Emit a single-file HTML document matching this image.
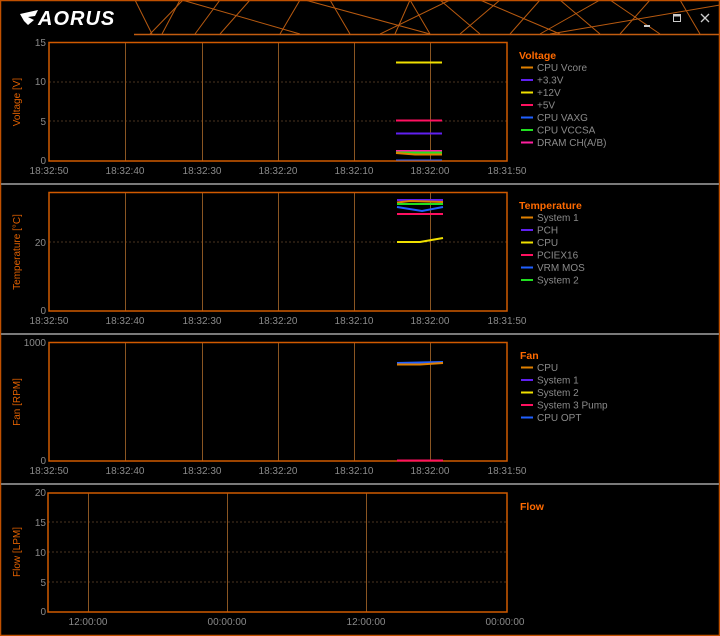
<!DOCTYPE html>
<html><head><meta charset="utf-8"><style>
html,body{margin:0;padding:0;background:#000;}
svg{display:block;font-family:"Liberation Sans","DejaVu Sans",sans-serif;}
.ax{fill:#8a8a8a;font-size:10px;}
.lg{fill:#8a8a8a;font-size:10px;}
.tt{fill:#ff6a00;font-size:10.5px;font-weight:bold;}
.yl{fill:#e06000;font-size:10px;}
</style></head><body>
<svg width="720" height="636" viewBox="0 0 720 636">
<rect width="720" height="636" fill="#000"/>
<!-- header -->
<g stroke="#b85a10" stroke-width="1" fill="none">
<line x1="135" y1="0" x2="152" y2="34"/><line x1="183" y1="0" x2="150" y2="34"/>
<line x1="180" y1="0" x2="162" y2="34"/><line x1="220" y1="0" x2="195" y2="34"/>
<line x1="182" y1="0" x2="300" y2="34"/><line x1="300" y1="0" x2="280" y2="34"/>
<line x1="305" y1="0" x2="430" y2="34"/><line x1="410" y1="0" x2="395" y2="34"/>
<line x1="410" y1="0" x2="430" y2="34"/><line x1="450" y1="0" x2="380" y2="34"/>
<line x1="440" y1="0" x2="480" y2="34"/><line x1="500" y1="0" x2="460" y2="34"/>
<line x1="480" y1="0" x2="560" y2="34"/><line x1="540" y1="0" x2="510" y2="34"/>
<line x1="600" y1="0" x2="540" y2="34"/><line x1="610" y1="0" x2="660" y2="34"/>
<line x1="720" y1="5" x2="550" y2="34"/><line x1="680" y1="0" x2="700" y2="34"/>
<line x1="250" y1="0" x2="220" y2="34"/><line x1="330" y1="0" x2="350" y2="34"/>
<line x1="560" y1="0" x2="600" y2="34"/><line x1="650" y1="0" x2="620" y2="34"/>
</g>
<line x1="134" y1="34.5" x2="720" y2="34.5" stroke="#c25c10" stroke-width="1.5"/>
<rect x="0.5" y="0.5" width="719" height="635" fill="none" stroke="#c05000" stroke-width="1.5"/>
<text x="38" y="25" fill="#fff" font-size="20" font-weight="bold" font-style="italic" letter-spacing="1">AORUS</text>
<path d="M20 14 L38 10 L35 16 L28 17 L34 20 L28 25 L24 21 Z" fill="#fff"/>
<rect x="644" y="25" width="6" height="2" fill="#ccc"/>
<rect x="673.5" y="14.5" width="7" height="7" fill="none" stroke="#ccc"/><line x1="673" y1="15.5" x2="681" y2="15.5" stroke="#ccc" stroke-width="2"/>
<path d="M701 14 L709 22 M709 14 L701 22" stroke="#ccc" stroke-width="1.3"/>
<!-- separators -->
<rect x="1" y="183" width="718" height="2" fill="#7a7a7a"/>
<rect x="1" y="333" width="718" height="2" fill="#7a7a7a"/>
<rect x="1" y="483" width="718" height="2" fill="#7a7a7a"/>

<!-- Panel 1 -->
<g stroke="#4a3520" stroke-dasharray="2,2"><line x1="49" y1="82" x2="507" y2="82"/><line x1="49" y1="121" x2="507" y2="121"/></g>
<g stroke="#8a5522"><line x1="125.5" y1="42" x2="125.5" y2="161"/><line x1="202.5" y1="42" x2="202.5" y2="161"/><line x1="278.5" y1="42" x2="278.5" y2="161"/><line x1="354.5" y1="42" x2="354.5" y2="161"/><line x1="430.5" y1="42" x2="430.5" y2="161"/></g>
<rect x="49" y="42.5" width="458" height="118.5" fill="none" stroke="#d05a00" stroke-width="1.5"/>
<g stroke-width="2">
<line x1="396" y1="62.5" x2="442" y2="62.5" stroke="#f0e000"/>
<line x1="396" y1="120.5" x2="442" y2="120.5" stroke="#ff1060"/>
<line x1="396" y1="133.5" x2="442" y2="133.5" stroke="#6020f0"/>
<line x1="396" y1="151" x2="442" y2="151" stroke="#ff20a0"/>
<line x1="396" y1="152.5" x2="442" y2="152.5" stroke="#20e020"/>
<polyline points="396,153 415,154.5 442,154.5" stroke="#e08000" fill="none"/>
<line x1="396" y1="160" x2="442" y2="160" stroke="#2060ff" stroke-width="1"/>
</g>
<g class="ax" text-anchor="end"><text x="46" y="46">15</text><text x="46" y="85">10</text><text x="46" y="125">5</text><text x="46" y="164">0</text></g>
<g class="ax" text-anchor="middle"><text x="49" y="174">18:32:50</text><text x="125" y="174">18:32:40</text><text x="202" y="174">18:32:30</text><text x="278" y="174">18:32:20</text><text x="354" y="174">18:32:10</text><text x="430" y="174">18:32:00</text><text x="507" y="174">18:31:50</text></g>
<text class="yl" transform="translate(20,102) rotate(-90)" text-anchor="middle">Voltage [V]</text>
<text class="tt" x="519" y="59">Voltage</text>
<g stroke-width="2"><line x1="521" y1="67.5" x2="533" y2="67.5" stroke="#e08000"/><line x1="521" y1="80" x2="533" y2="80" stroke="#6020f0"/><line x1="521" y1="92.5" x2="533" y2="92.5" stroke="#f0e000"/><line x1="521" y1="105" x2="533" y2="105" stroke="#ff1060"/><line x1="521" y1="117.5" x2="533" y2="117.5" stroke="#2060ff"/><line x1="521" y1="130" x2="533" y2="130" stroke="#20e020"/><line x1="521" y1="142.5" x2="533" y2="142.5" stroke="#ff20a0"/></g>
<g class="lg"><text x="537" y="71">CPU Vcore</text><text x="537" y="83.5">+3.3V</text><text x="537" y="96">+12V</text><text x="537" y="108.5">+5V</text><text x="537" y="121">CPU VAXG</text><text x="537" y="133.5">CPU VCCSA</text><text x="537" y="146">DRAM CH(A/B)</text></g>

<!-- Panel 2 -->
<g stroke="#4a3520" stroke-dasharray="2,2"><line x1="49" y1="242" x2="507" y2="242"/></g>
<g stroke="#8a5522"><line x1="125.5" y1="192" x2="125.5" y2="311"/><line x1="202.5" y1="192" x2="202.5" y2="311"/><line x1="278.5" y1="192" x2="278.5" y2="311"/><line x1="354.5" y1="192" x2="354.5" y2="311"/><line x1="430.5" y1="192" x2="430.5" y2="311"/></g>
<rect x="49" y="192.5" width="458" height="118.5" fill="none" stroke="#d05a00" stroke-width="1.5"/>
<g stroke-width="2" fill="none">
<line x1="397" y1="200" x2="443" y2="200" stroke="#6020f0"/>
<polyline points="397,202.5 410,201 443,202" stroke="#e08000"/>
<line x1="397" y1="204" x2="443" y2="204" stroke="#20e020"/>
<polyline points="397,207 422,211 443,207" stroke="#2060ff"/>
<line x1="397" y1="214" x2="443" y2="214" stroke="#ff1060"/>
<polyline points="397,242 420,242 443,238" stroke="#f0e000"/>
</g>
<g class="ax" text-anchor="end"><text x="46" y="246">20</text><text x="46" y="314">0</text></g>
<g class="ax" text-anchor="middle"><text x="49" y="324">18:32:50</text><text x="125" y="324">18:32:40</text><text x="202" y="324">18:32:30</text><text x="278" y="324">18:32:20</text><text x="354" y="324">18:32:10</text><text x="430" y="324">18:32:00</text><text x="507" y="324">18:31:50</text></g>
<text class="yl" transform="translate(20,252) rotate(-90)" text-anchor="middle">Temperature [°C]</text>
<text class="tt" x="519" y="209">Temperature</text>
<g stroke-width="2"><line x1="521" y1="217.5" x2="533" y2="217.5" stroke="#e08000"/><line x1="521" y1="230" x2="533" y2="230" stroke="#6020f0"/><line x1="521" y1="242.5" x2="533" y2="242.5" stroke="#f0e000"/><line x1="521" y1="255" x2="533" y2="255" stroke="#ff1060"/><line x1="521" y1="267.5" x2="533" y2="267.5" stroke="#2060ff"/><line x1="521" y1="280" x2="533" y2="280" stroke="#20e020"/></g>
<g class="lg"><text x="537" y="221">System 1</text><text x="537" y="233.5">PCH</text><text x="537" y="246">CPU</text><text x="537" y="258.5">PCIEX16</text><text x="537" y="271">VRM MOS</text><text x="537" y="283.5">System 2</text></g>

<!-- Panel 3 -->
<g stroke="#8a5522"><line x1="125.5" y1="342" x2="125.5" y2="461"/><line x1="202.5" y1="342" x2="202.5" y2="461"/><line x1="278.5" y1="342" x2="278.5" y2="461"/><line x1="354.5" y1="342" x2="354.5" y2="461"/><line x1="430.5" y1="342" x2="430.5" y2="461"/></g>
<rect x="49" y="342.5" width="458" height="118.5" fill="none" stroke="#d05a00" stroke-width="1.5"/>
<g stroke-width="2" fill="none">
<line x1="397" y1="363" x2="443" y2="362" stroke="#2060ff"/>
<polyline points="397,364.5 420,364.5 443,363" stroke="#e08000"/>
<line x1="397" y1="460.5" x2="443" y2="460.5" stroke="#ff1060"/>
</g>
<g class="ax" text-anchor="end"><text x="46" y="346">1000</text><text x="46" y="464">0</text></g>
<g class="ax" text-anchor="middle"><text x="49" y="474">18:32:50</text><text x="125" y="474">18:32:40</text><text x="202" y="474">18:32:30</text><text x="278" y="474">18:32:20</text><text x="354" y="474">18:32:10</text><text x="430" y="474">18:32:00</text><text x="507" y="474">18:31:50</text></g>
<text class="yl" transform="translate(20,402) rotate(-90)" text-anchor="middle">Fan [RPM]</text>
<text class="tt" x="520" y="359">Fan</text>
<g stroke-width="2"><line x1="521" y1="367.5" x2="533" y2="367.5" stroke="#e08000"/><line x1="521" y1="380" x2="533" y2="380" stroke="#6020f0"/><line x1="521" y1="392.5" x2="533" y2="392.5" stroke="#f0e000"/><line x1="521" y1="405" x2="533" y2="405" stroke="#ff1060"/><line x1="521" y1="417.5" x2="533" y2="417.5" stroke="#2060ff"/></g>
<g class="lg"><text x="537" y="371">CPU</text><text x="537" y="383.5">System 1</text><text x="537" y="396">System 2</text><text x="537" y="408.5">System 3 Pump</text><text x="537" y="421">CPU OPT</text></g>

<!-- Panel 4 -->
<g stroke="#4a3520" stroke-dasharray="2,2"><line x1="48" y1="522" x2="507" y2="522"/><line x1="48" y1="552" x2="507" y2="552"/><line x1="48" y1="582" x2="507" y2="582"/></g>
<g stroke="#8a5522"><line x1="88.5" y1="493" x2="88.5" y2="612"/><line x1="227.5" y1="493" x2="227.5" y2="612"/><line x1="366.5" y1="493" x2="366.5" y2="612"/></g>
<rect x="48" y="493" width="459" height="119" fill="none" stroke="#d05a00" stroke-width="1.5"/>
<g class="ax" text-anchor="end"><text x="46" y="496">20</text><text x="46" y="526">15</text><text x="46" y="556">10</text><text x="46" y="586">5</text><text x="46" y="615">0</text></g>
<g class="ax" text-anchor="middle"><text x="88" y="625">12:00:00</text><text x="227" y="625">00:00:00</text><text x="366" y="625">12:00:00</text><text x="505" y="625">00:00:00</text></g>
<text class="yl" transform="translate(20,552) rotate(-90)" text-anchor="middle">Flow [LPM]</text>
<text class="tt" x="520" y="510">Flow</text>
</svg>
</body></html>
